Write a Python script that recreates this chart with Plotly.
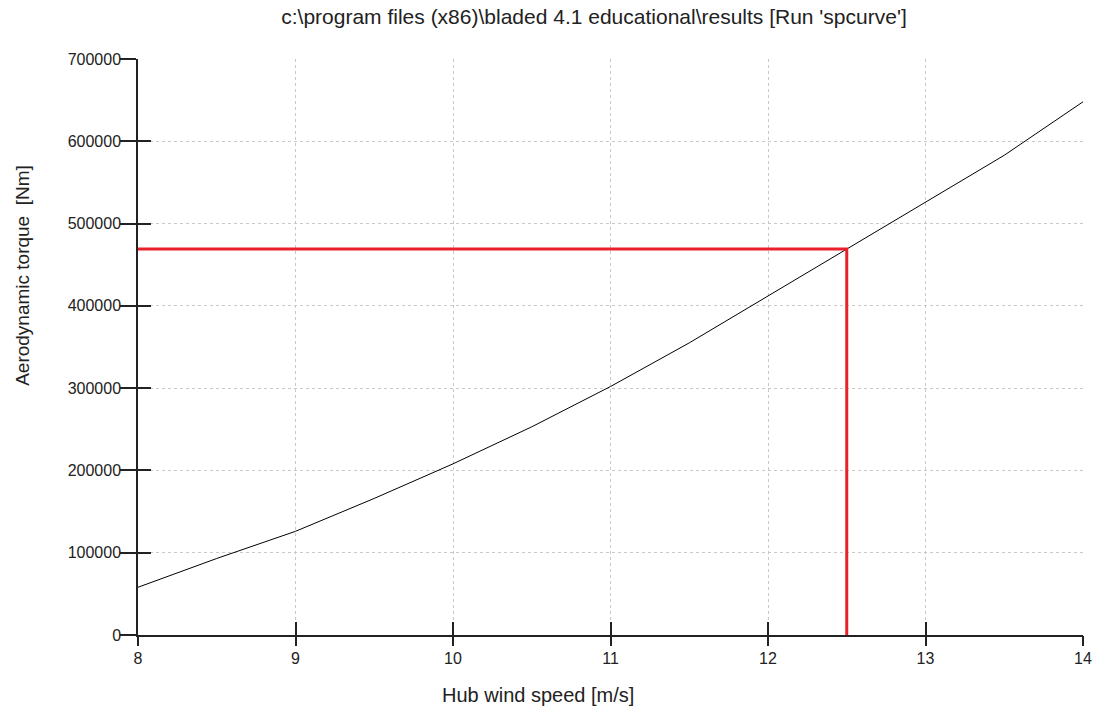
import plotly.graph_objects as go

# Hub wind speed [m/s] and aerodynamic torque [Nm]
wind_speed = [8, 8.5, 9, 9.5, 10, 10.5, 11, 11.5, 12, 12.5, 13, 13.5, 14]
torque = [58000, 93000, 126000, 166000, 208000, 253000, 302000, 355000,
          412000, 469000, 527000, 583000, 648000]

# rated point marked in red
rated_speed = 12.5
rated_torque = 469000

x_ticks = [8, 9, 10, 11, 12, 13, 14]
y_ticks = [0, 100000, 200000, 300000, 400000, 500000, 600000, 700000]

TITLE = "c:\\program files (x86)\\bladed 4.1 educational\\results [Run 'spcurve']"
FONT = "Liberation Sans, Arial, sans-serif"
INK = "#222222"

W, H = 1104, 708
L, R, T, B = 138, 14, 59, 73


def px_x(px):
    # pixel column -> paper x
    return (px - L) / (W - L - R)


def px_y(px):
    # pixel row -> paper y
    return (H - B - px) / (H - T - B)


fig = go.Figure()

fig.add_trace(go.Scatter(
    x=wind_speed, y=torque, mode="lines",
    line=dict(color="black", width=1), showlegend=False, hoverinfo="skip",
))

# red guide lines: from the y axis to the curve, then down to the x axis
fig.add_trace(go.Scatter(
    x=[wind_speed[0], rated_speed, rated_speed],
    y=[rated_torque, rated_torque, y_ticks[0]],
    mode="lines", line=dict(color="#e8202a", width=3),
    showlegend=False, hoverinfo="skip", xaxis="x2", yaxis="y2",
))

grid = dict(showgrid=True, gridcolor="#c8c8c8", gridwidth=1, griddash="3px,3px")

fig.update_layout(
    width=W, height=H,
    paper_bgcolor="white", plot_bgcolor="white",
    margin=dict(l=L, r=R, t=T, b=B),
    font=dict(family=FONT, size=16, color=INK),
    title=dict(text=TITLE, x=594 / W, xanchor="center",
               y=1 - 17 / H, yanchor="middle", yref="container",
               font=dict(size=21, color=INK)),
    xaxis=dict(range=[8, 14], tickvals=x_ticks, ticks="inside", ticklen=13,
               tickcolor=INK, tickwidth=1.5, showline=True,
               linecolor=INK, linewidth=1.5, zeroline=False,
               ticklabelstandoff=8, ticklabeloverflow="allow", **grid),
    xaxis2=dict(range=[8, 14], overlaying="x", anchor="y", side="bottom",
                tickvals=x_ticks, ticks="outside", ticklen=10,
                tickcolor=INK, tickwidth=1.5, showticklabels=False,
                showgrid=False, zeroline=False, showline=False),
    yaxis=dict(range=[0, 700000], tickvals=y_ticks, tickformat="d",
               ticks="outside", ticklen=16, tickcolor=INK, tickwidth=1.5,
               showline=True, linecolor=INK, linewidth=1.5,
               zeroline=False, ticklabelstandoff=-4, **grid),
    yaxis2=dict(range=[0, 700000], overlaying="y", anchor="x", side="left",
                tickvals=y_ticks, ticks="inside", ticklen=13,
                tickcolor=INK, tickwidth=1.5, showticklabels=False,
                showgrid=False, zeroline=False, showline=False),
    annotations=[
        dict(text="Hub wind speed [m/s]", x=px_x(541), y=px_y(695),
             xref="paper", yref="paper", xanchor="center", yanchor="middle",
             showarrow=False, font=dict(size=20)),
        dict(text="Aerodynamic torque  [Nm]", x=px_x(21), y=px_y(275),
             xref="paper", yref="paper", xanchor="center", yanchor="middle",
             showarrow=False, textangle=-90, font=dict(size=19)),
    ],
)

# drop the default page margin so the figure sits at the window's corner
fig.write_html("out.html",
               config={"displayModeBar": False},
               post_script="document.body.style.margin='0';"
                           "document.body.style.overflow='hidden';")
